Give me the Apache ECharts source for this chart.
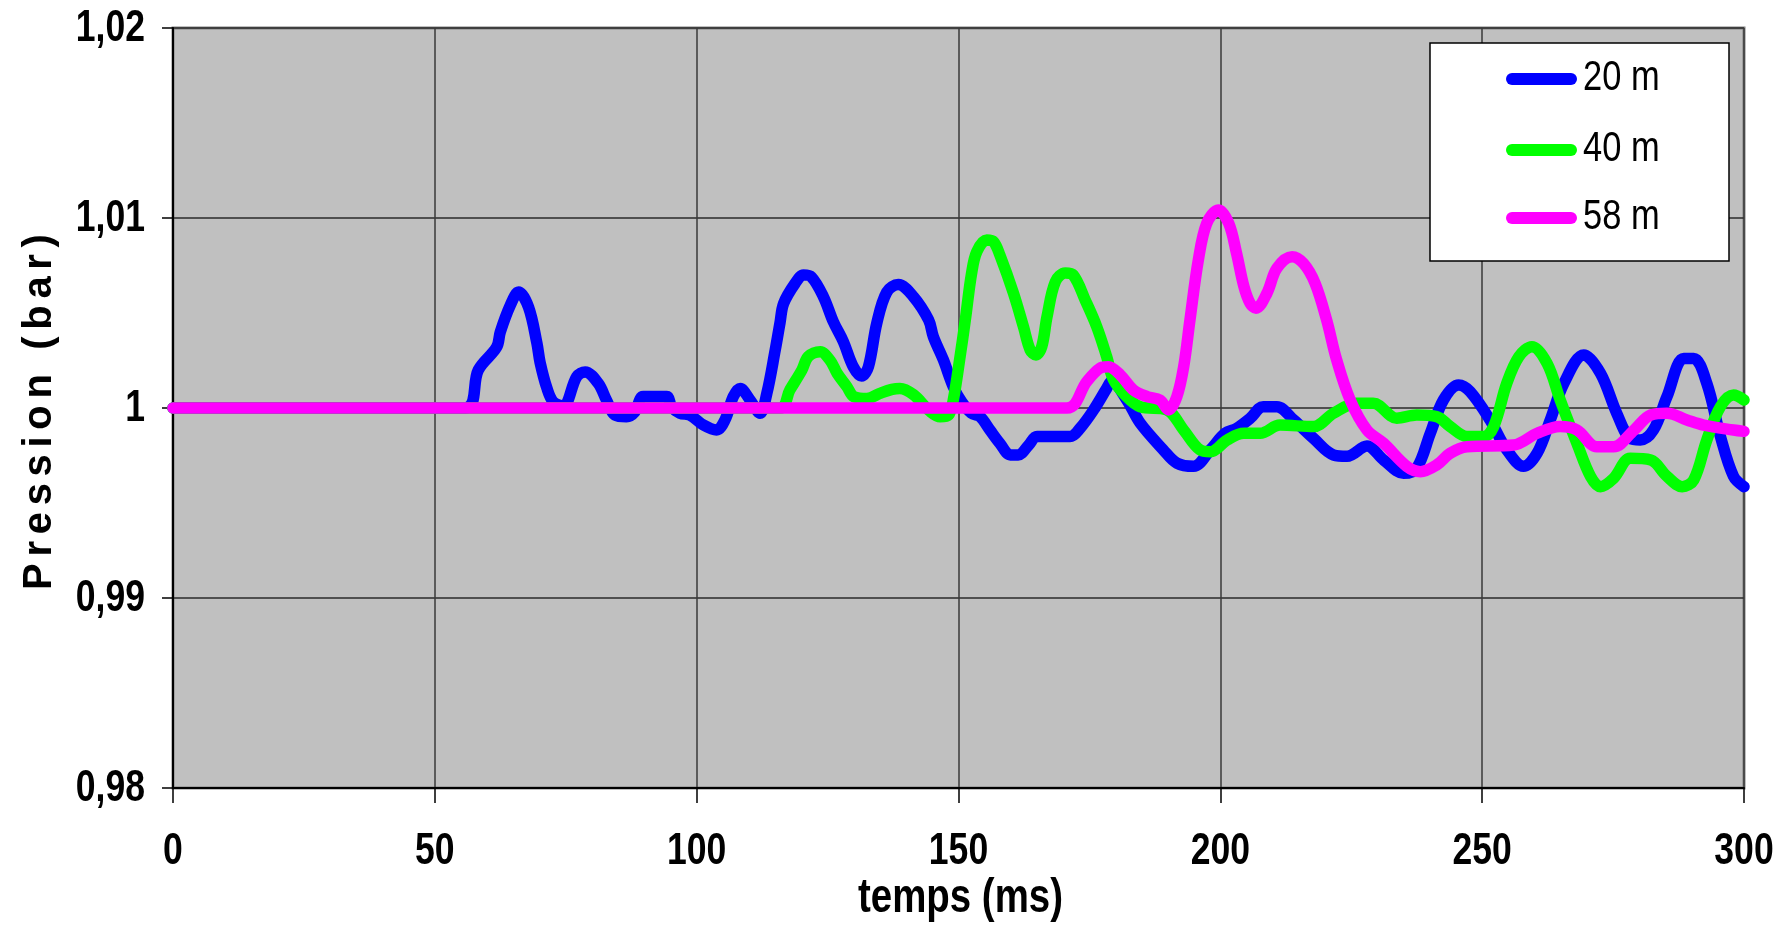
<!DOCTYPE html>
<html>
<head>
<meta charset="utf-8">
<script src="https://cdn.jsdelivr.net/npm/echarts@6/dist/echarts.min.js"></script>
<style>html,body{margin:0;padding:0;background:#fff;}#c{width:1787px;height:925px;}</style>
</head>
<body>
<div id="c"></div>
<script>
// ---- data (time in ms, pressure in bar) ----
const seriesNames = ['20 m', '40 m', '58 m'];
const xTicks = [0, 50, 100, 150, 200, 250, 300];
const yTicks = [0.98, 0.99, 1.00, 1.01, 1.02];

const t20 = [0, 55.8, 58.3, 61.8, 62.5, 64.4, 66.0, 67.9, 69.5, 70.1,
  71.4, 72.6, 74.5, 77.1, 78.7, 81.2, 82.8, 84.4, 86.6, 88.2,
  89.8, 94.3, 95.2, 96.8, 98.7, 101.3, 103.8, 105.4, 107.0, 108.3,
  110.2, 112.1, 113.4, 115.0, 115.9, 116.6, 118.8, 120.4, 121.9, 124.2,
  126.1, 128.0, 129.9, 131.5, 132.8, 134.4, 136.3, 138.5, 141.4, 144.3,
  145.2, 147.1, 149.0, 150.6, 152.5, 154.1, 156.0, 157.9, 159.9, 161.4,
  163.4, 165.0, 171.3, 173.2, 175.8, 178.3, 179.2, 182.1, 184.7, 189.1,
  191.7, 194.9, 198.1, 200.9, 203.1, 205.7, 208.2, 210.8, 214.0, 217.8,
  221.6, 224.2, 228.0, 231.2, 235.0, 237.5, 240.1, 242.6, 245.5, 247.7,
  251.5, 254.7, 257.9, 260.5, 263.0, 265.6, 269.4, 272.6, 275.7, 278.3,
  280.2, 282.7, 285.3, 288.5, 290.4, 292.9, 295.5, 298.0, 300];
const p20 = [1.0000, 1.0000, 1.0020, 1.0032, 1.0040, 1.0054, 1.0061, 1.0053, 1.0034, 1.0024,
  1.00105, 1.00033, 1.0001, 1.00165, 1.0019, 1.0013, 1.0004, 0.99963, 0.99954, 0.9998,
  1.0006, 1.0006, 1.00007, 0.99972, 0.99963, 0.9991, 0.99884, 0.99937, 1.0006, 1.00103,
  1.00042, 0.99972, 1.00077, 1.00305, 1.00446, 1.0055, 1.00656, 1.0070, 1.0069, 1.00586,
  1.00454, 1.0035, 1.00217, 1.00168, 1.00217, 1.00447, 1.0061, 1.0065, 1.00586, 1.00463,
  1.00375, 1.00254, 1.00112, 1.00033, 0.99972, 0.99955, 0.99884, 0.99814, 0.99753, 0.99753,
  0.99805, 0.9985, 0.9985, 0.99893, 0.9999, 1.00103, 1.00139, 1.00044, 0.9992, 0.9978,
  0.9971, 0.99693, 0.9978, 0.99867, 0.99893, 0.99946, 1.00007, 1.00007, 0.99937, 0.9984,
  0.99753, 0.99746, 0.9980, 0.99726, 0.99656, 0.99683, 0.99867, 1.00042, 1.00121, 1.00086,
  0.99937, 0.9978, 0.99693, 0.99762, 0.99937, 1.0013, 1.00279, 1.00182, 0.99972, 0.9984,
  0.99832, 0.99884, 1.0006, 1.0026, 1.0026, 1.0013, 0.9985, 0.9964, 0.99586];

const t40 = [0, 115.9, 117.8, 120.1, 121.3, 123.6, 125.5, 126.8, 128.7, 130.0,
  132.5, 135.0, 137.3, 138.8, 141.4, 144.6, 146.5, 148.1, 149.0, 150.3,
  151.3, 152.5, 153.5, 155.4, 156.7, 157.9, 160.5, 162.4, 163.7, 164.8,
  165.9, 166.9, 168.5, 170.4, 171.9, 174.2, 176.4, 178.3, 179.6, 182.1,
  184.7, 189.8, 193.0, 196.1, 198.1, 201.3, 204.5, 207.6, 211.4, 217.8,
  221.6, 226.0, 229.2, 233.7, 237.5, 241.3, 243.9, 247.1, 250.3, 252.2,
  254.7, 257.0, 259.5, 262.4, 264.9, 268.1, 270.7, 272.6, 275.1, 278.3,
  282.2, 285.3, 288.2, 290.4, 292.9, 295.5, 298.0, 300];
const p40 = [1.0000, 1.0000, 1.00095, 1.0020, 1.0027, 1.00296, 1.0025, 1.00184, 1.00112, 1.0006,
  1.0005, 1.00077, 1.00098, 1.00103, 1.0007, 0.99982, 0.99954, 0.99963, 1.00042, 1.0027,
  1.00463, 1.00709, 1.00823, 1.00884, 1.00875, 1.00805, 1.00604, 1.00428, 1.00305, 1.00279,
  1.00323, 1.0048, 1.00665, 1.0071, 1.0070, 1.00568, 1.00428, 1.0027, 1.00149, 1.0006,
  1.00007, 0.9999, 0.99884, 0.9978, 0.9977, 0.99832, 0.99867, 0.99867, 0.9991, 0.99902,
  0.99972, 1.00025, 1.00025, 0.99946, 0.99963, 0.99955, 0.99902, 0.9985, 0.9985, 0.99902,
  1.0013, 1.0027, 1.00323, 1.00235, 1.00042, 0.99814, 0.9964, 0.99586, 0.9963, 0.99735,
  0.99726, 0.9964, 0.99586, 0.99621, 0.99832, 1.00007, 1.00068, 1.00042];

const t58 = [0, 170.7, 174.5, 177.0, 178.6, 180.9, 183.4, 186.0, 188.5, 190.1,
  191.7, 193.0, 194.2, 195.8, 197.4, 199.6, 201.6, 203.1, 204.5, 205.7,
  206.8, 208.9, 210.8, 213.7, 215.9, 218.1, 220.3, 222.2, 224.8, 228.0,
  231.2, 235.6, 238.2, 241.3, 243.9, 247.1, 256.0, 260.5, 264.9, 268.1,
  271.9, 275.1, 279.0, 282.2, 285.3, 289.1, 292.3, 298.0, 300];
const p58 = [1.0000, 1.0000, 1.00139, 1.00209, 1.00217, 1.00174, 1.00095, 1.0006, 1.00042, 0.9999,
  1.0006, 1.00217, 1.00463, 1.00779, 1.00972, 1.01042, 1.00972, 1.00814, 1.00639, 1.0055,
  1.00525, 1.00604, 1.00735, 1.00796, 1.0076, 1.00656, 1.00463, 1.00254, 1.00042, 0.99884,
  0.99814, 0.99693, 0.99665, 0.9970, 0.99762, 0.99796, 0.99805, 0.99867, 0.99902, 0.99884,
  0.99796, 0.99796, 0.99884, 0.99963, 0.99972, 0.99937, 0.9991, 0.99884, 0.99877];

const colors = ['#0000ff', '#00ff00', '#ff00ff'];

// ---- build ----
const zip = (t, p) => t.map((x, i) => [x, p[i]]);
const dataSets = [zip(t20, p20), zip(t40, p40), zip(t58, p58)];

const FONT = "'Liberation Sans', Arial, sans-serif";
const NARROW_X = 0.79;   // horizontal compression to mimic the condensed face of the original
const fmtY = v => String(parseFloat(v.toFixed(2))).replace('.', ',');
const yTitle = 'Pression (bar)'.split('').join('\u200A\u200A');

const chart = echarts.init(document.getElementById('c'), null, {renderer: 'canvas'});
chart.setOption({
  animation: false,
  backgroundColor: '#ffffff',
  color: colors,
  grid: {
    left: 173, right: 43, top: 28, bottom: 137,
    show: true, backgroundColor: '#c0c0c0', borderColor: '#808080', borderWidth: 3
  },
  xAxis: {
    type: 'value', min: xTicks[0], max: xTicks[xTicks.length - 1], interval: 50,
    axisLine: {show: true, lineStyle: {color: '#000', width: 2}},
    axisTick: {show: true, length: 15, lineStyle: {color: '#000', width: 1.5}},
    axisLabel: {show: false},
    splitLine: {show: true, lineStyle: {color: '#3a3a3a', width: 1.5}}
  },
  yAxis: {
    type: 'value', min: yTicks[0], max: yTicks[yTicks.length - 1], interval: 0.01,
    axisLine: {show: true, lineStyle: {color: '#000', width: 2}},
    axisTick: {show: true, length: 11, lineStyle: {color: '#000', width: 1.5}},
    axisLabel: {show: false},
    splitLine: {show: true, lineStyle: {color: '#2a2a2a', width: 1.5}}
  },
  series: seriesNames.map((n, i) => ({
    name: n, type: 'line', data: dataSets[i], showSymbol: false, symbol: 'none',
    smooth: 0.35, z: 2 + i,
    lineStyle: {color: colors[i], width: 11.5, cap: 'round', join: 'round'}
  }))
});

// ---- labels placed through the axes' own scales ----
const toPx = (x, y) => chart.convertToPixel({gridIndex: 0}, [x, y]);
const g = [];
const y0 = yTicks[0], x0 = xTicks[0];
xTicks.forEach(v => {
  const p = toPx(v, y0);
  g.push({type: 'text', x: p[0], y: p[1] + 64, scaleX: NARROW_X, z: 50,
    style: {text: String(v), font: 'bold 45px ' + FONT, fill: '#000', textAlign: 'center', textVerticalAlign: 'middle'}});
});
yTicks.forEach(v => {
  const p = toPx(x0, v);
  g.push({type: 'text', x: p[0] - 28, y: p[1] + 1, scaleX: NARROW_X, z: 50,
    style: {text: fmtY(v), font: 'bold 45px ' + FONT, fill: '#000', textAlign: 'right', textVerticalAlign: 'middle'}});
});
// axis titles
const midX = (toPx(xTicks[0], y0)[0] + toPx(xTicks[xTicks.length - 1], y0)[0]) / 2;
const midY = (toPx(x0, yTicks[0])[1] + toPx(x0, yTicks[yTicks.length - 1])[1]) / 2;
g.push({type: 'text', x: midX + 2, y: toPx(x0, y0)[1] + 111, scaleX: 0.8, z: 50,
  style: {text: 'temps (ms)', font: 'bold 48px ' + FONT, fill: '#000', textAlign: 'center', textVerticalAlign: 'middle'}});
g.push({type: 'text', x: 40, y: midY + 4, rotation: Math.PI / 2, z: 50,
  style: {text: yTitle, font: 'bold 40px ' + FONT, fill: '#000', textAlign: 'center', textVerticalAlign: 'middle'}});
// legend
const legBox = {x: 1430, y: 43, w: 299, h: 218};
const legRows = [79, 150, 218];
g.push({type: 'rect', z: 40, shape: {x: legBox.x, y: legBox.y, width: legBox.w, height: legBox.h},
  style: {fill: '#ffffff', stroke: '#000000', lineWidth: 1.5}});
seriesNames.forEach((n, i) => {
  g.push({type: 'line', z: 41, shape: {x1: 1512, y1: legRows[i], x2: 1571, y2: legRows[i]},
    style: {stroke: colors[i], lineWidth: 12, lineCap: 'round'}});
  g.push({type: 'text', x: 1583, y: legRows[i] - 1, scaleX: 0.82, z: 41,
    style: {text: n, font: '42px ' + FONT, fill: '#000', textAlign: 'left', textVerticalAlign: 'middle'}});
});
chart.setOption({graphic: g});
</script>
</body>
</html>
